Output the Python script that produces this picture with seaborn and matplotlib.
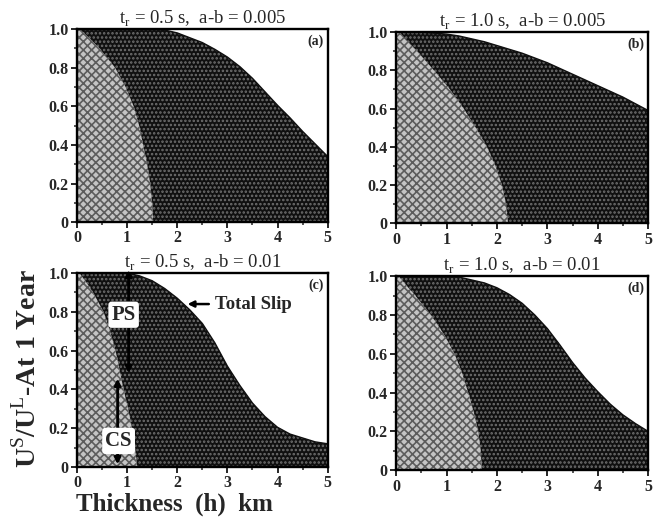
import matplotlib
matplotlib.use("Agg")
import matplotlib.pyplot as plt
import seaborn as sns
import numpy as np

# thickness grid for total slip curves (km)
h = [0, 0.25, 0.5, 0.75, 1.0, 1.25, 1.5, 1.75, 2.0, 2.25, 2.5,
     2.75, 3.0, 3.25, 3.5, 3.75, 4.0, 4.25, 4.5, 4.75, 5.0]
total_a = [1, 1, 1, 1, 1, 1, 1, 0.995, 0.98, 0.955, 0.93,
           0.895, 0.855, 0.805, 0.745, 0.675, 0.605, 0.54, 0.47, 0.405, 0.34]
total_b = [1, 1, 1, 0.995, 0.99, 0.98, 0.965, 0.95, 0.93, 0.91, 0.89,
           0.865, 0.84, 0.81, 0.78, 0.75, 0.72, 0.69, 0.66, 0.625, 0.59]
total_c = [1, 1, 1, 1, 1, 0.985, 0.96, 0.92, 0.87, 0.81, 0.74,
           0.64, 0.52, 0.42, 0.33, 0.26, 0.205, 0.17, 0.15, 0.13, 0.12]
total_d = [1, 1, 1, 1, 1, 0.995, 0.98, 0.965, 0.94, 0.905, 0.86,
           0.80, 0.73, 0.645, 0.555, 0.475, 0.405, 0.34, 0.285, 0.24, 0.20]

# coseismic slip boundary: thickness at each slip level
cs_level = [1.0, 0.95, 0.9, 0.8, 0.7, 0.6, 0.5, 0.4, 0.3, 0.2, 0.1, 0.0]
cs_a = [0.05, 0.26, 0.45, 0.76, 0.97, 1.13, 1.24, 1.32, 1.40, 1.46, 1.50, 1.52]
cs_b = [0.06, 0.24, 0.42, 0.75, 1.07, 1.34, 1.58, 1.80, 1.97, 2.10, 2.18, 2.22]
cs_c = [0.05, 0.19, 0.32, 0.53, 0.66, 0.77, 0.85, 0.93, 1.02, 1.10, 1.16, 1.20]
cs_d = [0.05, 0.21, 0.38, 0.69, 0.95, 1.16, 1.31, 1.43, 1.54, 1.63, 1.68, 1.70]

titles = [r"t$_{\rm r}$ = 0.5 s,  a-b = 0.005", r"t$_{\rm r}$ = 1.0 s,  a-b = 0.005",
          r"t$_{\rm r}$ = 0.5 s,  a-b = 0.01", r"t$_{\rm r}$ = 1.0 s,  a-b = 0.01"]
tags = ["(a)", "(b)", "(c)", "(d)"]

sns.set_style("ticks")
plt.rcParams['font.family'] = ['Liberation Serif', 'DejaVu Serif']
plt.rcParams['mathtext.fontset'] = 'custom'
plt.rcParams['mathtext.rm'] = 'Liberation Serif'
plt.rcParams['hatch.linewidth'] = 1.2

fig = plt.figure(figsize=(6.58, 5.19), dpi=100)
boxes = [[0.117, 0.572, 0.381, 0.372], [0.602, 0.570, 0.383, 0.368],
         [0.117, 0.100, 0.381, 0.374], [0.602, 0.094, 0.383, 0.374]]
totals = [total_a, total_b, total_c, total_d]
css = [cs_a, cs_b, cs_c, cs_d]

axes = []
for i in range(4):
    ax = fig.add_axes(boxes[i])
    ax.fill_between(h, 0, totals[i], facecolor='#101010', edgecolor='#707070',
                    hatch='....', lw=0)
    ax.fill_betweenx(cs_level, 0, css[i], facecolor='#c4c4c4', edgecolor='#5c5c5c',
                     hatch='xxxx', lw=0)
    sns.lineplot(x=h, y=totals[i], ax=ax, color='#101010', lw=1)
    ax.set_xlim(0, 5)
    ax.set_ylim(0, 1)
    ax.set_xticks([0, 1, 2, 3, 4, 5])
    ax.set_xticks(np.arange(0, 5.01, 0.5), minor=True)
    ax.set_yticks([0, 0.2, 0.4, 0.6, 0.8, 1.0])
    ax.set_yticklabels(["0", "0.2", "0.4", "0.6", "0.8", "1.0"])
    ax.set_yticks(np.arange(0, 1.01, 0.1), minor=True)
    ax.tick_params(which='major', length=4, width=1.4, labelsize=11.5, pad=2)
    ax.tick_params(which='minor', length=2.5, width=1.1)
    for lab in ax.get_xticklabels() + ax.get_yticklabels():
        lab.set_fontweight('bold')
    for s in ax.spines.values():
        s.set_linewidth(1.7)
        s.set_color('black')
    ax.set_title(titles[i], fontsize=13.5, pad=1)
    ax.text(0.985, 0.97, tags[i], transform=ax.transAxes, ha='right', va='top',
            fontsize=10, fontweight='bold')
    axes.append(ax)

ax = axes[2]
box = dict(boxstyle='round,pad=0.15', fc='white', ec='none')
ax.annotate("", xy=(1.03, 1.03), xytext=(1.03, 0.47),
            arrowprops=dict(arrowstyle='<|-|>', color='black', lw=2, mutation_scale=9),
            annotation_clip=False)
ax.annotate("", xy=(0.81, 0.47), xytext=(0.81, 0.0),
            arrowprops=dict(arrowstyle='<|-|>', color='black', lw=2, mutation_scale=9))
ax.text(0.93, 0.785, "PS", ha='center', va='center', fontsize=15, fontweight='bold',
        bbox=box)
ax.text(0.83, 0.135, "CS", ha='center', va='center', fontsize=15, fontweight='bold',
        bbox=box)
ax.annotate("Total Slip", xy=(2.15, 0.84), xytext=(2.75, 0.84), va='center',
            fontsize=13.5, fontweight='bold',
            arrowprops=dict(arrowstyle='-|>', color='black', lw=1.8, mutation_scale=9))

fig.text(0.042, 0.29, r"U$^{\rm S}$/U$^{\rm L}$-At 1 Year", rotation=90,
         ha='center', va='center', fontsize=20, fontweight='bold')
fig.text(0.265, 0.028, "Thickness  (h)  km", ha='center', va='center',
         fontsize=18, fontweight='bold')

fig.savefig("out.png", dpi=100)
